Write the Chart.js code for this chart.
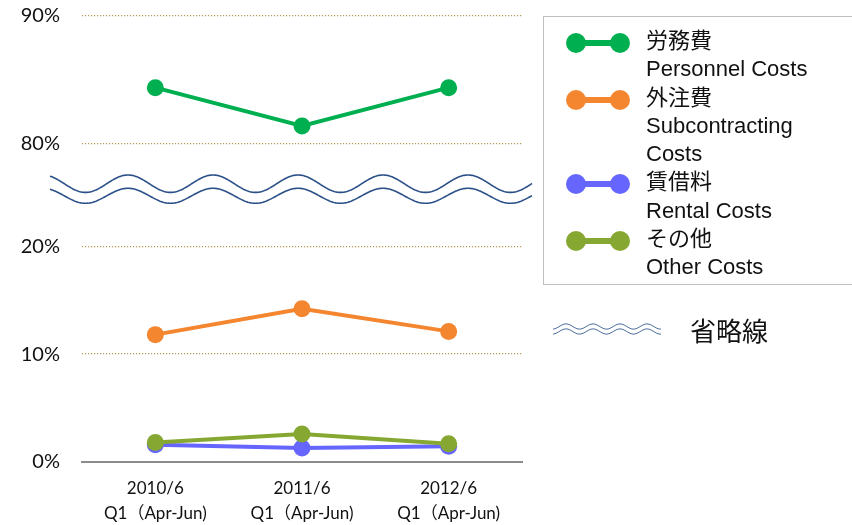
<!DOCTYPE html>
<html>
<head>
<meta charset="utf-8">
<script src="https://cdn.jsdelivr.net/npm/chart.js@4"></script>
<style>
  html, body { margin: 0; padding: 0; background: #fff; }
  body { width: 852px; height: 525px; overflow: hidden; position: relative; }
  #chart { position: absolute; left: 0; top: 0; }
  .legend {
    position: absolute; left: 543px; top: 16px; width: 330px; height: 269px;
    border: 1px solid #bfbfbf; box-sizing: border-box; padding-top: 10px;
    font-family: "Liberation Sans", "Noto Sans CJK JP", sans-serif; font-size: 22px; color: #111;
  }
  .item { position: relative; line-height: 28.3px; }
  .item .txt { margin-left: 102px; white-space: nowrap; }
  .mk { position: absolute; left: 22px; top: 6px; width: 64px; height: 20px; }
  .mk i { position: absolute; top: 0; width: 20px; height: 20px; border-radius: 50%; }
  .mk b { position: absolute; left: 10px; top: 7px; width: 44px; height: 6px; }
  .break-key { position: absolute; left: 553px; top: 321px; }
  .break-txt {
    position: absolute; left: 690px; top: 312px; font-size: 26px; line-height: 36px;
    font-family: "Noto Sans CJK JP", sans-serif; color: #111;
  }
</style>
</head>
<body>
<canvas id="chart" width="852" height="525"></canvas>
<div class="legend" id="legend"></div>
<canvas class="break-key" id="breakKey" width="110" height="18"></canvas>
<div class="break-txt">省略線</div>
<script>
const categories = [['2010/6', 'Q1（Apr-Jun)'], ['2011/6', 'Q1（Apr-Jun)'], ['2012/6', 'Q1（Apr-Jun)']];
const personnel = [84.4, 81.4, 84.4];
const subcontracting = [11.8, 14.2, 12.1];
const rental = [1.6, 1.3, 1.45];
const other = [1.8, 2.6, 1.7];
const topTicks = [80, 90];
const bottomTicks = [0, 10, 20];

const seriesLabels = [
  ['労務費', 'Personnel Costs'],
  ['外注費', 'Subcontracting', 'Costs'],
  ['賃借料', 'Rental Costs'],
  ['その他', 'Other Costs']
];
const colors = ['#00b050', '#f58630', '#6666ff', '#86a832'];

const tickFont = { family: 'Lato, "Noto Sans CJK JP"', size: 20 };
const gridColor = '#b8995c';

function line(i, data, axis) {
  return {
    label: seriesLabels[i].join(' '),
    data: data,
    yAxisID: axis,
    order: 3 - i, // later series drawn on top
    borderColor: colors[i],
    backgroundColor: colors[i],
    borderWidth: 4,
    pointRadius: 8.5,
    pointHoverRadius: 8.5,
    pointBorderWidth: 0,
    tension: 0
  };
}

function yAxis(min, max, ticks, weight) {
  return {
    type: 'linear',
    position: 'left',
    stack: 'y',
    stackWeight: weight,
    min: min,
    max: max,
    afterBuildTicks: s => { s.ticks = ticks.map(v => ({ value: v })); },
    afterFit: s => { s.width = 82; s.paddingTop = 0; s.paddingBottom = 0; },
    grid: {
      drawTicks: false,
      lineWidth: 1.2,
      color: ctx => (ctx.tick && ctx.tick.value === 0) ? 'rgba(0,0,0,0)' : gridColor
    },
    border: { display: false, dash: [1.2, 1.8] },
    ticks: { padding: 22, color: '#111', font: tickFont, callback: v => v + '%' }
  };
}

// double wavy break line between the two stacked y axes
const breakLine = {
  id: 'breakLine',
  afterDatasetsDraw(chart) {
    const ctx = chart.ctx;
    const area = chart.chartArea;
    const mid = chart.scales.yTop.bottom;
    const x0 = area.left - 32, x1 = area.right + 10;
    const wave = (c, a, x) => c - a * Math.cos(2 * Math.PI * (x - 128) / 85);
    ctx.save();
    ctx.beginPath();
    for (let x = x0; x <= x1; x++) ctx.lineTo(x, wave(mid - 6.3, 8.7, x));
    for (let x = x1; x >= x0; x--) ctx.lineTo(x, wave(mid + 5.8, 7.5, x));
    ctx.closePath();
    ctx.fillStyle = '#fff';
    ctx.fill();
    ctx.strokeStyle = '#2c5189';
    ctx.lineWidth = 1.6;
    [[-6.3, 8.7], [5.8, 7.5]].forEach(([d, a]) => {
      ctx.beginPath();
      for (let x = x0; x <= x1; x++) ctx.lineTo(x, wave(mid + d, a, x));
      ctx.stroke();
    });
    ctx.restore();
  }
};

const chart = new Chart(document.getElementById('chart'), {
  type: 'line',
  data: {
    labels: categories,
    datasets: [
      line(0, personnel, 'yTop'),
      line(1, subcontracting, 'yBot'),
      line(2, rental, 'yBot'),
      line(3, other, 'yBot')
    ]
  },
  options: {
    responsive: false,
    animation: false,
    layout: { padding: { left: 0, right: 330, top: 16, bottom: 0 } },
    plugins: { legend: { display: false }, tooltip: { enabled: false } },
    scales: {
      x: {
        type: 'category',
        offset: true,
        afterFit: s => { s.height = 63; },
        grid: { display: false, drawTicks: false },
        border: { display: true, color: '#8c8c8c', width: 2 },
        ticks: {
          padding: 14,
          color: '#111',
          font: { family: 'Lato, "Noto Sans CJK JP"', size: 17, lineHeight: 1.47 }
        }
      },
      // stacked axes are laid out bottom to top in this order
      yBot: yAxis(0, 25.2, bottomTicks, 272),
      yTop: yAxis(76.4, 90, topTicks, 174)
    }
  },
  plugins: [breakLine]
});

// HTML legend built from the datasets
const legend = document.getElementById('legend');
chart.data.datasets.forEach((ds, i) => {
  const c = ds.borderColor;
  const item = document.createElement('div');
  item.className = 'item';
  item.innerHTML =
    '<span class="mk"><b style="background:' + c + '"></b>' +
    '<i style="left:0;background:' + c + '"></i><i style="left:44px;background:' + c + '"></i></span>' +
    '<div class="txt">' + seriesLabels[i].join('<br>') + '</div>';
  legend.appendChild(item);
});

// small break-line key
const kc = document.getElementById('breakKey').getContext('2d');
kc.strokeStyle = '#4f6f9f';
kc.lineWidth = 1;
[5.5, 10.5].forEach(cy => {
  kc.beginPath();
  for (let x = 0; x <= 108; x++) kc.lineTo(x, cy - 2.6 * Math.cos(2 * Math.PI * (x - 13) / 27));
  kc.stroke();
});
</script>
</body>
</html>
